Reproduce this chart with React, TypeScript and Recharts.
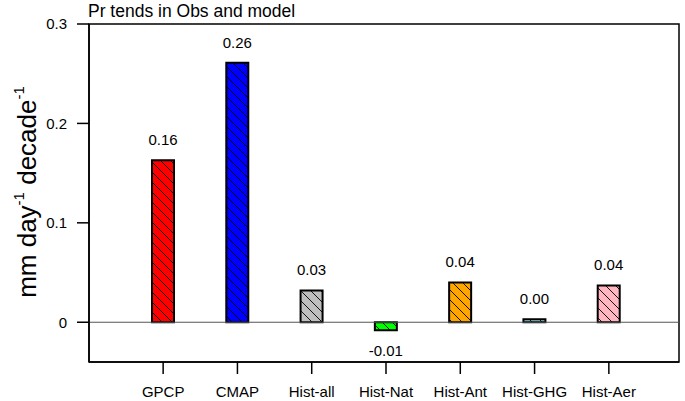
import React from 'react';
import { BarChart, Bar, Cell, XAxis, YAxis, ReferenceLine, LabelList, usePlotArea } from 'recharts';

const categories = ['GPCP', 'CMAP', 'Hist-all', 'Hist-Nat', 'Hist-Ant', 'Hist-GHG', 'Hist-Aer'];
const trends = [0.163, 0.261, 0.032, -0.008, 0.040, 0.003, 0.037];
const fills = ['#ff0000', '#0000ff', '#bebebe', '#00ff00', '#ffa500', '#8ecfd6', '#ffb6c1'];
const yTicks = [0, 0.1, 0.2, 0.3];

const data = categories.map((name, i) => ({ name, value: trends[i] }));

const FONT = '"Liberation Sans", Arial, Helvetica, sans-serif';
const HATCH = 10;

const Hatches: React.FC = () => (
  <svg width={0} height={0} style={{ position: 'absolute' }}>
    <defs>
      {fills.map((c, i) => (
        <pattern key={i} id={`hatch-${i}`} patternUnits="userSpaceOnUse" width={HATCH} height={HATCH}>
          <rect width={HATCH} height={HATCH} fill={c} />
          <path
            d={`M0,0 L${HATCH},${HATCH} M-2,${HATCH - 2} L2,${HATCH + 2} M${HATCH - 2},-2 L${HATCH + 2},2`}
            stroke="#000"
            strokeWidth={0.9}
          />
        </pattern>
      ))}
    </defs>
  </svg>
);

// box around the plot area
const Frame = () => {
  const area = usePlotArea();
  if (!area) return null;
  return (
    <rect x={area.x} y={area.y} width={area.width} height={area.height} fill="none" stroke="#000" strokeWidth={1.5} />
  );
};

const ValueLabel = (props: any) => {
  const { x, y, width, height, value } = props;
  const top = Math.min(y, y + height);
  const bottom = Math.max(y, y + height);
  const ty = value < 0 ? bottom + 26 : top - 15;
  return (
    <text x={x + width / 2} y={ty} textAnchor="middle" fontSize={15} fill="#000" fontFamily={FONT}>
      {Number(value).toFixed(2)}
    </text>
  );
};

const YLabel = () => (
  <text
    transform="translate(36,192) rotate(-90)"
    textAnchor="middle"
    fontSize={26}
    fill="#000"
    fontFamily={FONT}
  >
    mm day
    <tspan dy={-12} fontSize={15}>-1</tspan>
    <tspan dy={12}> decade</tspan>
    <tspan dy={-12} fontSize={15}>-1</tspan>
  </text>
);

const axisStroke = { stroke: '#000', strokeWidth: 1.5 };
const tickStyle = { fill: '#000', fontSize: 15, fontFamily: FONT };

const App: React.FC = () => {
  return (
    <div style={{ position: 'relative', width: 685, height: 401, fontFamily: FONT }}>
      <style>{'body{margin:0;}'}</style>
      <Hatches />
      <div style={{ position: 'absolute', left: 88, top: 0, fontSize: 17.5, lineHeight: '22px', color: '#000' }}>
        Pr tends in Obs and model
      </div>
      <BarChart
        width={685}
        height={401}
        data={data}
        margin={{ top: 24, right: 6, bottom: 0, left: 0 }}
      >
        <XAxis
          dataKey="name"
          height={39}
          padding={{ left: 37, right: 33 }}
          tickSize={12}
          tickMargin={12}
          axisLine={axisStroke}
          tickLine={axisStroke}
          tick={tickStyle}
          interval={0}
        />
        <YAxis
          width={89}
          domain={[-0.04, 0.3]}
          allowDataOverflow
          ticks={yTicks}
          tickFormatter={(v: number) => (v === 0 ? '0' : String(v))}
          tickSize={12}
          tickMargin={10}
          axisLine={axisStroke}
          tickLine={axisStroke}
          tick={tickStyle}
          label={<YLabel />}
        />
        <Frame />
        <ReferenceLine y={0} stroke="#555" strokeWidth={1} />
        <Bar dataKey="value" barSize={22} stroke="#000" strokeWidth={2} isAnimationActive={false}>
          {data.map((_, i) => (
            <Cell key={i} fill={`url(#hatch-${i})`} />
          ))}
          <LabelList dataKey="value" content={ValueLabel} />
        </Bar>
      </BarChart>
    </div>
  );
};

export default App;
